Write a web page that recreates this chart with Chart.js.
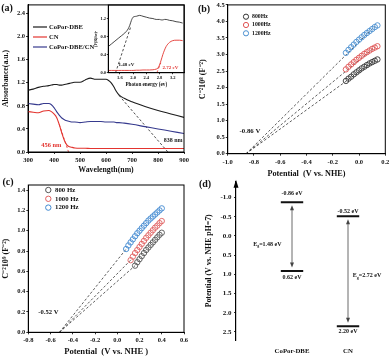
<!DOCTYPE html>
<html>
<head>
<meta charset="utf-8">
<script src="https://cdn.jsdelivr.net/npm/chart.js@4.4.1/dist/chart.umd.min.js"></script>
<style>
body { margin: 0; background: #fff; }
#wrap { position: relative; width: 392px; height: 359px; overflow: hidden; background: #fff; }
canvas { position: absolute; }
</style>
</head>
<body>
<div id="wrap">
  <canvas id="ca" width="196" height="175" style="left:0px;top:0px"></canvas>
  <canvas id="cin" width="100" height="90" style="left:88px;top:0px"></canvas>
  <canvas id="cb" width="196" height="180" style="left:196px;top:0px"></canvas>
  <canvas id="cc" width="196" height="190" style="left:0px;top:175px"></canvas>
  <canvas id="cd" width="196" height="190" style="left:196px;top:175px"></canvas>
</div>
<script>
// ---- (a) UV-vis absorbance
const wavelength = [300,320,340,360,380,390,400,410,420,430,440,450,460,470,480,500,520,540,560,580,600,610,620,630,640,650,670,700,750,800,850,900];
const absCoPor   = [1.07,1.09,1.12,1.14,1.15,1.16,1.17,1.17,1.16,1.16,1.17,1.18,1.19,1.20,1.21,1.21,1.25,1.28,1.26,1.26,1.26,1.24,1.20,1.13,1.05,0.99,0.93,0.87,0.79,0.72,0.66,0.60];
const absCN      = [0.70,0.69,0.68,0.71,0.72,0.70,0.66,0.60,0.48,0.33,0.20,0.12,0.09,0.08,0.07,0.065,0.065,0.06,0.06,0.06,0.06,0.06,0.06,0.06,0.06,0.06,0.06,0.06,0.06,0.06,0.06,0.06];
const absMix     = [0.84,0.83,0.82,0.84,0.84,0.82,0.77,0.70,0.64,0.59,0.56,0.54,0.53,0.52,0.52,0.51,0.52,0.53,0.53,0.53,0.52,0.52,0.52,0.52,0.51,0.51,0.50,0.48,0.44,0.40,0.36,0.32];
const cnTangent    = [[420, 0.48], [456, 0]];
const coporTangent = [[650, 0.98], [838, 0]];
const aXTicks = [300,400,500,600,700,800,900];
const aYTicks = [0,0.4,0.8,1.2,1.6,2.0,2.4];

// ---- (a) inset Tauc plot
const energy   = [1.25,1.35,1.45,1.55,1.65,1.75,1.85,1.9,1.95,2.0,2.1,2.2,2.3,2.4,2.5,2.6,2.7,2.75,2.8,2.85,2.9,2.95,3.0,3.1,3.2,3.3,3.4,3.5];
const taucCoPor = [0.58,0.64,0.70,0.76,0.82,0.88,0.97,1.05,1.16,1.23,1.25,1.27,1.25,1.23,1.21,1.20,1.18,1.18,1.18,1.17,1.17,1.18,1.18,1.16,1.15,1.13,1.12,1.10];
const taucCN    = [0.05,0.05,0.05,0.05,0.05,0.05,0.05,0.05,0.05,0.05,0.055,0.055,0.06,0.06,0.06,0.065,0.08,0.10,0.17,0.28,0.40,0.50,0.58,0.67,0.71,0.72,0.72,0.71];
const taucCoPorTangent = [[1.47, 0], [1.93, 1.02]];
const taucCNTangent    = [[2.72, 0], [2.84, 0.22]];
const inXTicks = [1.6,2.0,2.4,2.8,3.2];
const inYTicks = [0,0.4,0.8,1.2];

// ---- (b) Mott-Schottky CoPor-DBE
const bPotential = [-0.10,-0.08,-0.06,-0.04,-0.02,0.00,0.02,0.04,0.06,0.08,0.10,0.12,0.14];
const b800  = [2.20,2.27,2.33,2.40,2.46,2.52,2.58,2.63,2.68,2.73,2.77,2.81,2.85];
const b1000 = [2.55,2.63,2.70,2.77,2.84,2.90,2.96,3.02,3.07,3.12,3.17,3.21,3.25];
const b1200 = [3.05,3.14,3.22,3.30,3.38,3.45,3.52,3.59,3.65,3.71,3.77,3.83,3.88];
const bFits = [[[-0.86,0],[0.12,2.82]], [[-0.86,0],[0.12,3.22]], [[-0.86,0],[0.12,3.85]]];
const bXTicks = [-1.0,-0.8,-0.6,-0.4,-0.2,0.0,0.2];
const bYTicks = [0,0.5,1.0,1.5,2.0,2.5,3.0,3.5,4.0,4.5];

// ---- (c) Mott-Schottky CN
const c800x  = [0.16,0.18,0.20,0.22,0.24,0.26,0.28,0.30,0.32,0.34,0.36,0.38,0.40];
const c800   = [0.656,0.69,0.72,0.75,0.78,0.81,0.835,0.86,0.885,0.91,0.935,0.96,0.98];
const c1000x = [0.12,0.14,0.16,0.18,0.20,0.22,0.24,0.26,0.28,0.30,0.32,0.34,0.36,0.38,0.40];
const c1000  = [0.71,0.745,0.78,0.81,0.84,0.87,0.90,0.93,0.955,0.98,1.005,1.03,1.05,1.075,1.095];
const c1200x = [0.08,0.10,0.12,0.14,0.16,0.18,0.20,0.22,0.24,0.26,0.28,0.30,0.32,0.34,0.36,0.38,0.40];
const c1200  = [0.82,0.855,0.885,0.915,0.945,0.975,1.0,1.025,1.05,1.075,1.10,1.12,1.14,1.16,1.18,1.20,1.22];
const cFits = [[[-0.52,0],[0.16,0.656]], [[-0.52,0],[0.12,0.71]], [[-0.52,0],[0.08,0.82]]];
const cXTicks = [-0.8,-0.6,-0.4,-0.2,0.0,0.2,0.4,0.6];
const cYTicks = [0,0.2,0.4,0.6,0.8,1.0,1.2,1.4];

// ---- (d) band positions (as drawn)
const dCats = ['CoPor-DBE', 'CN'];
const dCB = [-0.88, -0.515];
const dVB = [0.91, 2.35];
const dYTicks = [-1.0,-0.5,0.0,0.5,1.0,1.5,2.0,2.5];

const SERIF = '"Liberation Serif", "Times New Roman", serif';
Chart.defaults.font.family = SERIF;
Chart.defaults.font.weight = 'bold';
Chart.defaults.color = '#111';
Chart.defaults.animation = false;
Chart.defaults.responsive = false;
Chart.defaults.maintainAspectRatio = false;
Chart.defaults.plugins.legend.display = false;
Chart.defaults.plugins.tooltip.enabled = false;

const pts = (xs, ys) => xs.map((x, i) => ({x: x, y: ys[i]}));
const pairs = arr => arr.map(p => ({x: p[0], y: p[1]}));

function axis(o) {
  return {
    type: 'linear', position: o.pos, min: o.min, max: o.max, reverse: !!o.reverse,
    afterBuildTicks: s => { s.ticks = o.ticks.map(v => ({value: v})); },
    afterFit: s => { if (o.pos === 'left') s.width = o.size; else s.height = o.size; },
    grid: {display: o.grid !== false, drawOnChartArea: false, drawTicks: o.grid !== false,
           tickLength: o.tl || 2, color: '#000', lineWidth: 0.8},
    border: {display: o.border !== false, color: '#000', width: o.bw || 1},
    ticks: {font: {size: o.tickSize}, padding: o.tickPad, color: '#111', autoSkip: false, maxRotation: 0,
            callback: o.fmt || (v => v.toFixed(1))},
    title: {display: !!o.title, text: o.title, font: {size: o.titleSize}, padding: o.titlePad, color: '#111'}
  };
}

function line(data, color, extra) {
  return Object.assign({data: data, showLine: true, borderColor: color, borderWidth: 1.1,
    pointRadius: 0, cubicInterpolationMode: 'monotone', fill: false}, extra || {});
}
function dash(data, color) {
  return {data: data, showLine: true, borderColor: color, borderWidth: 0.8, borderDash: [2.5, 2],
    pointRadius: 0, fill: false};
}
function rings(data, color) {
  return {data: data, showLine: false, borderColor: color, backgroundColor: 'rgba(255,255,255,0)',
    pointRadius: 2.7, borderWidth: 0.9, pointStyle: 'circle'};
}

const boxPlugin = {
  id: 'box',
  afterDraw(chart) {
    const {ctx, chartArea: a} = chart;
    ctx.save();
    ctx.strokeStyle = '#000';
    ctx.lineWidth = 1;
    ctx.strokeRect(a.left, a.top, a.right - a.left, a.bottom - a.top);
    ctx.restore();
  }
};

// text notes: data coords unless px is set; parts allow a subscript
function makeNotes(items) {
  return {
    id: 'notes',
    afterDraw(chart) {
      const ctx = chart.ctx;
      items.forEach(n => {
        const x = n.px ? n.x : chart.scales.x.getPixelForValue(n.x);
        const y = n.px ? n.y : chart.scales.y.getPixelForValue(n.y);
        const parts = n.parts || [{t: n.text}];
        ctx.save();
        ctx.fillStyle = n.color || '#111';
        ctx.textBaseline = 'middle';
        ctx.textAlign = 'left';
        let w = 0;
        parts.forEach(p => {
          ctx.font = 'bold ' + (p.sub ? n.size * 0.65 : n.size) + 'px ' + SERIF;
          p.w = ctx.measureText(p.t).width;
          w += p.w;
        });
        let cx = n.align === 'left' ? x : x - w / 2;
        parts.forEach(p => {
          ctx.font = 'bold ' + (p.sub ? n.size * 0.65 : n.size) + 'px ' + SERIF;
          ctx.fillText(p.t, cx, p.sub ? y + n.size * 0.3 : y);
          cx += p.w;
        });
        ctx.restore();
      });
    }
  };
}

function makeLegend(o) {
  return {
    id: 'legendBox',
    afterDraw(chart) {
      const ctx = chart.ctx;
      o.sets.forEach((idx, k) => {
        const ds = chart.data.datasets[idx];
        const y = o.y + k * o.dy;
        ctx.save();
        ctx.strokeStyle = ds.borderColor;
        if (o.kind === 'line') {
          ctx.lineWidth = 1.2;
          ctx.beginPath(); ctx.moveTo(o.x, y); ctx.lineTo(o.x + o.len, y); ctx.stroke();
        } else {
          ctx.lineWidth = 1;
          ctx.beginPath(); ctx.arc(o.x, y, o.r, 0, Math.PI * 2); ctx.stroke();
        }
        ctx.fillStyle = '#111';
        ctx.font = 'bold ' + o.size + 'px ' + SERIF;
        ctx.textBaseline = 'middle';
        ctx.fillText(ds.label, o.tx, y);
        ctx.restore();
      });
    }
  };
}

// ---------- (a)
new Chart(document.getElementById('ca'), {
  type: 'scatter',
  data: {datasets: [
    line(pts(wavelength, absCoPor), '#1c1c1c', {label: 'CoPor-DBE'}),
    line(pts(wavelength, absCN), '#e3342f', {label: 'CN'}),
    line(pts(wavelength, absMix), '#363a8e', {label: 'CoPor-DBE/CN'}),
    dash(pairs(cnTangent), '#e3342f'),
    dash(pairs(coporTangent), '#222')
  ]},
  options: {
    layout: {padding: {left: 0, top: 3, right: 12, bottom: 0}},
    scales: {
      x: axis({pos: 'bottom', min: 300, max: 900, ticks: aXTicks, size: 23, tickSize: 6.5, tickPad: 2.5,
               fmt: v => String(v), title: 'Wavelength(nm)', titleSize: 7.8, titlePad: {top: 0, bottom: 0}}),
      y: axis({pos: 'left', min: 0, max: 2.55, ticks: aYTicks, size: 28, tickSize: 6.5, tickPad: 1,
               title: 'Absorbance(a.u.)', titleSize: 7.8, titlePad: {top: 1, bottom: 0}})
    }
  },
  plugins: [boxPlugin,
    makeLegend({sets: [0, 1, 2], kind: 'line', x: 33, len: 14, y: 27, dy: 10, tx: 49, size: 6.6}),
    makeNotes([
      {x: 390, y: 0.11, text: '456 nm', size: 6.4, color: '#e3342f'},
      {x: 858, y: 0.2, text: '838 nm', size: 6, color: '#222'},
      {px: true, x: 7, y: 8.5, text: '(a)', size: 10}
    ])]
});

// ---------- (a) inset
new Chart(document.getElementById('cin'), {
  type: 'scatter',
  data: {datasets: [
    line(pts(energy, taucCoPor), '#333', {borderWidth: 0.9}),
    line(pts(energy, taucCN), '#e3342f', {borderWidth: 0.9}),
    dash(pairs(taucCoPorTangent), '#222'),
    dash(pairs(taucCNTangent), '#e3342f')
  ]},
  options: {
    layout: {padding: {left: 0, top: 5, right: 3.7, bottom: 0}},
    scales: {
      x: axis({pos: 'bottom', min: 1.25, max: 3.55, ticks: inXTicks, size: 17.3, tickSize: 4.5, tickPad: 0.5, tl: 1.5,
               title: 'Photon energy (ev)', titleSize: 5.2, titlePad: {top: 0, bottom: 2.5}}),
      y: axis({pos: 'left', min: 0, max: 1.5, ticks: inYTicks, size: 20.3, tickSize: 4.5, tickPad: 0.8, tl: 1.5,
               title: '(F(R)hv)²', titleSize: 4, titlePad: {top: 6, bottom: 0}})
    }
  },
  plugins: [boxPlugin, makeNotes([
    {x: 1.8, y: 0.17, text: '1.48 eV', size: 5},
    {x: 3.13, y: 0.11, text: '2.72 eV', size: 5, color: '#e3342f'}
  ])]
});

// ---------- (b)
new Chart(document.getElementById('cb'), {
  type: 'scatter',
  data: {datasets: [
    rings(pts(bPotential, b800), '#333'),
    rings(pts(bPotential, b1000), '#df5252'),
    rings(pts(bPotential, b1200), '#4a8fd0'),
    dash(pairs(bFits[0]), '#333'),
    dash(pairs(bFits[1]), '#333'),
    dash(pairs(bFits[2]), '#333')
  ].map((d, i) => Object.assign(d, i < 3 ? {label: ['800Hz', '1000Hz', '1200Hz'][i]} : {}))},
  options: {
    layout: {padding: {left: 0, top: 4.7, right: 6.7, bottom: 0}},
    scales: {
      x: axis({pos: 'bottom', min: -1.0, max: 0.2, ticks: bXTicks, size: 26.3, tickSize: 6.5, tickPad: 2.5,
               title: 'Potential  (V vs. NHE)', titleSize: 8.2, titlePad: {top: 0, bottom: 1.5}}),
      y: axis({pos: 'left', min: 0, max: 4.5, ticks: bYTicks, size: 31.7, tickSize: 6.5, tickPad: 1,
               title: 'C⁻²10⁸ (F⁻²)', titleSize: 8.2, titlePad: {top: 2, bottom: 0}})
    }
  },
  plugins: [boxPlugin,
    makeLegend({sets: [0, 1, 2], kind: 'ring', x: 50, r: 2.6, y: 16.7, dy: 8.3, tx: 56, size: 5.8}),
    makeNotes([
      {x: -0.91, y: 0.69, text: '-0.86 V', size: 6.8, align: 'left'},
      {px: true, x: 8, y: 9.3, text: '(b)', size: 10}
    ])]
});

// ---------- (c)
new Chart(document.getElementById('cc'), {
  type: 'scatter',
  data: {datasets: [
    rings(pts(c800x, c800), '#555'),
    rings(pts(c1000x, c1000), '#e06060'),
    rings(pts(c1200x, c1200), '#3f88d0'),
    dash(pairs(cFits[0]), '#333'),
    dash(pairs(cFits[1]), '#333'),
    dash(pairs(cFits[2]), '#333')
  ].map((d, i) => Object.assign(d, i < 3 ? {label: ['800 Hz', '1000 Hz', '1200 Hz'][i]} : {}))},
  options: {
    layout: {padding: {left: 0, top: 10, right: 12, bottom: 0}},
    scales: {
      x: axis({pos: 'bottom', min: -0.8, max: 0.6, ticks: cXTicks, size: 32.7, tickSize: 6.5, tickPad: 2.2,
               title: 'Potential  (V vs. NHE )', titleSize: 8.6, titlePad: {top: 0, bottom: 8}}),
      y: axis({pos: 'left', min: 0, max: 1.45, ticks: cYTicks, size: 28.3, tickSize: 6.5, tickPad: 1,
               title: 'C⁻²10⁹ (F⁻²)', titleSize: 8.2, titlePad: {top: 1, bottom: 0}})
    }
  },
  plugins: [boxPlugin,
    makeLegend({sets: [0, 1, 2], kind: 'ring', x: 48.3, r: 2.7, y: 15, dy: 8.8, tx: 55, size: 6.8}),
    makeNotes([
      {x: -0.71, y: 0.2, text: '-0.52 V', size: 6.6, align: 'left'},
      {px: true, x: 8, y: 7, text: '(c)', size: 10}
    ])]
});

// ---------- (d)
const HALF = 0.2;
const dLevels = [];
dCats.forEach((c, i) => {
  dLevels.push(line([{x: i - HALF, y: dCB[i]}, {x: i + HALF, y: dCB[i]}], '#111', {borderWidth: 2, cubicInterpolationMode: 'default'}));
  dLevels.push(line([{x: i - HALF, y: dVB[i]}, {x: i + HALF, y: dVB[i]}], '#111', {borderWidth: 2, cubicInterpolationMode: 'default'}));
});

const bandArrows = {
  id: 'bandArrows',
  afterDatasetsDraw(chart) {
    const {ctx, scales: {x, y}, chartArea: a} = chart;
    ctx.save();
    ctx.strokeStyle = '#444'; ctx.fillStyle = '#444'; ctx.lineWidth = 0.8;
    const head = (px, py, dir) => {
      ctx.beginPath(); ctx.moveTo(px, py); ctx.lineTo(px - 2, py - dir * 5); ctx.lineTo(px + 2, py - dir * 5);
      ctx.closePath(); ctx.fill();
    };
    dCats.forEach((c, i) => {
      const px = x.getPixelForValue(i);
      const y1 = y.getPixelForValue(dCB[i]) + 3, y2 = y.getPixelForValue(dVB[i]) - 3.5;
      ctx.beginPath(); ctx.moveTo(px, y1 + 3); ctx.lineTo(px, y2 - 3); ctx.stroke();
      head(px, y1, -1); head(px, y2, 1);
    });
    // axis arrow
    ctx.fillStyle = '#000';
    ctx.beginPath(); ctx.moveTo(a.left, a.top - 2); ctx.lineTo(a.left - 2.5, a.top + 6); ctx.lineTo(a.left + 2.5, a.top + 6);
    ctx.closePath(); ctx.fill();
    ctx.restore();
  }
};

new Chart(document.getElementById('cd'), {
  type: 'scatter',
  data: {datasets: dLevels},
  options: {
    layout: {padding: {left: 0, top: 3, right: 4, bottom: 0}},
    scales: {
      x: axis({pos: 'bottom', min: -1.0, max: 1.714, ticks: [0, 1], size: 25, tickSize: 6.8, tickPad: 7,
               grid: false, border: false, fmt: v => dCats[v]}),
      y: axis({pos: 'left', min: -1.415, max: 2.711, reverse: true, ticks: dYTicks, size: 40, tickSize: 7, tickPad: 2.5,
               bw: 1.2, title: 'Potential (V vs. NHE pH=7)', titleSize: 7.8, titlePad: {top: 8, bottom: 0}})
    }
  },
  plugins: [bandArrows, makeNotes([
    {x: 0, y: -1.1, text: '-0.86 eV', size: 6},
    {x: 0, y: 1.07, text: '0.62 eV', size: 6},
    {x: 1, y: -0.65, text: '-0.52 eV', size: 6},
    {x: 1, y: 2.5, text: '2.20 eV', size: 6},
    {x: -0.44, y: 0.21, size: 6, parts: [{t: 'E'}, {t: 'g', sub: true}, {t: '=1.48 eV'}]},
    {x: 1.34, y: 1.04, size: 6, parts: [{t: 'E'}, {t: 'g', sub: true}, {t: '=2.72 eV'}]},
    {px: true, x: 9, y: 9.7, text: '(d)', size: 10}
  ])]
});
</script>
</body>
</html>
